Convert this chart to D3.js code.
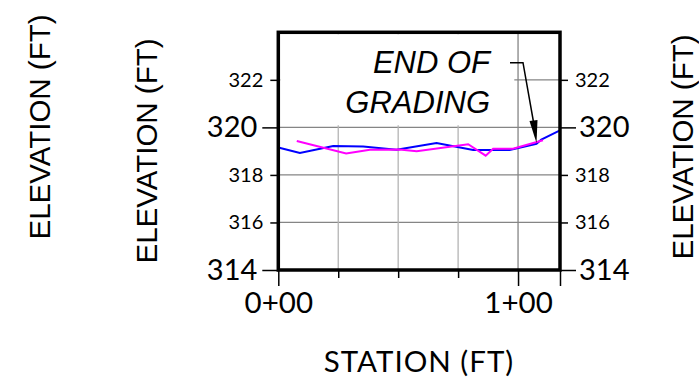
<!DOCTYPE html>
<html lang="en">
<head>
    <meta charset="utf-8">
    <script src="https://d3js.org/d3.v7.min.js"></script>
    <title>Elevation profile</title>
    <style>
        body { margin: 0; background: #fff; }
        .tick text { fill: #000; }
    </style>
</head>
<body>
    <svg width="699" height="381"></svg>
    <script>

        // station (ft) vs elevation (ft)
        var blueStation = [0, 9, 22.9, 35.4, 49.3, 66, 81.3, 96.5, 107.7, 109.7, 117.5];
        var blueElev    = [319.15, 318.92, 319.22, 319.2, 319.06, 319.34, 319.05, 319.05, 319.31, 319.49, 319.87];

        var pinkStation = [7.7, 28.3, 38.2, 50.5, 57.7, 79.2, 86.5, 89.6, 97.9, 110.4];
        var pinkElev    = [319.43, 318.9, 319.06, 319.07, 319.0, 319.29, 318.81, 319.1, 319.1, 319.46];

        var yMinorTicks = [316, 318, 322];
        var yMajorTicks = [314, 320];
        var xMinorTicks = [25, 50, 75];
        var xMajorTicks = [0, 100];
        var xStationLabels = ["0+00", "1+00"];

        var svg = d3.select("svg");

        var pL = 278.3, pR = 560, pT = 32.3, pB = 270;

        var xScale = d3.scaleLinear().domain([0, 117.5]).range([pL, pR]),
            yScale = d3.scaleLinear().domain([314, 324]).range([pB, pT]);

        // grid
        var grid = svg.append("g");
        grid.selectAll("line.gy")
            .data(yMinorTicks.concat([320]))
            .enter().append("line")
            .attr("x1", pL).attr("x2", pR)
            .attr("y1", d => yScale(d)).attr("y2", d => yScale(d))
            .style("stroke", "#858585").style("stroke-width", 1.3);
        grid.selectAll("line.gx")
            .data(xMinorTicks.concat([100]))
            .enter().append("line")
            .attr("x1", d => xScale(d)).attr("x2", d => xScale(d))
            .attr("y1", pT).attr("y2", pB)
            .style("stroke", d => d == 100 ? "#858585" : "#b4b4b4")
            .style("stroke-width", 1.3);

        // white box behind the note
        svg.append("rect")
            .attr("x", pL + 2).attr("y", pT + 2)
            .attr("width", 234).attr("height", 91)
            .style("fill", "#fff");

        var line = d3.line()
            .x(d => xScale(d[0]))
            .y(d => yScale(d[1]));

        svg.append("path")
            .datum(d3.zip(blueStation, blueElev))
            .attr("d", line)
            .style("fill", "none")
            .style("stroke", "#0000ff")
            .style("stroke-width", 2);

        svg.append("path")
            .datum(d3.zip(pinkStation, pinkElev))
            .attr("d", line)
            .style("fill", "none")
            .style("stroke", "#ff00ff")
            .style("stroke-width", 2);

        // frame
        svg.append("rect")
            .attr("x", pL).attr("y", pT)
            .attr("width", pR - pL).attr("height", pB - pT)
            .style("fill", "none")
            .style("stroke", "#000")
            .style("stroke-width", 3.5);

        function styleAxis(g, size) {
            g.select(".domain").remove();
            g.selectAll(".tick line").style("stroke", "#000").style("stroke-width", 1.5);
            g.selectAll(".tick text")
                .style("font-family", "Lato")
                .style("font-size", size + "px");
        }

        // left axis
        svg.append("g").attr("transform", "translate(" + pL + ",0)")
            .call(d3.axisLeft(yScale).tickValues(yMinorTicks).tickSize(8).tickPadding(7))
            .call(styleAxis, 20);
        svg.append("g").attr("transform", "translate(" + pL + ",0)")
            .call(d3.axisLeft(yScale).tickValues(yMajorTicks).tickSize(16).tickPadding(5))
            .call(styleAxis, 29);

        // right axis
        svg.append("g").attr("transform", "translate(" + pR + ",0)")
            .call(d3.axisRight(yScale).tickValues(yMinorTicks).tickSize(8).tickPadding(7))
            .call(styleAxis, 20);
        svg.append("g").attr("transform", "translate(" + pR + ",0)")
            .call(d3.axisRight(yScale).tickValues(yMajorTicks).tickSize(16).tickPadding(3))
            .call(styleAxis, 29);

        // bottom axis
        svg.append("g").attr("transform", "translate(0," + pB + ")")
            .call(d3.axisBottom(xScale).tickValues(xMinorTicks).tickSize(8).tickFormat(""))
            .call(styleAxis, 29);
        svg.append("g").attr("transform", "translate(0," + pB + ")")
            .call(d3.axisBottom(xScale).tickValues(xMajorTicks).tickSize(16).tickPadding(6)
                .tickFormat((d, i) => xStationLabels[i]))
            .call(styleAxis, 29.5);
        svg.append("g").attr("transform", "translate(0," + pB + ")")
            .call(d3.axisBottom(xScale).tickValues([117.5]).tickSize(16).tickFormat(""))
            .call(styleAxis, 29);

        // axis titles
        svg.append("text")
            .attr("x", 419).attr("y", 371.5)
            .attr("text-anchor", "middle")
            .style("font-family", "Lato")
            .style("font-size", "29.5px")
            .style("letter-spacing", "1px")
            .text("STATION (FT)");

        var yTitles = [[50, 127], [156.5, 151], [693, 147]];
        yTitles.forEach(function (p) {
            svg.append("text")
                .attr("transform", "translate(" + p[0] + "," + p[1] + ")rotate(-90)")
                .attr("text-anchor", "middle")
                .style("font-family", "Liberation Sans")
                .style("font-size", "29.5px")
                .text("ELEVATION (FT)");
        });

        // note
        var note = svg.append("g")
            .style("font-family", "Liberation Sans")
            .style("font-style", "italic")
            .style("font-size", "31px");
        note.append("text").attr("x", 490).attr("y", 73)
            .attr("text-anchor", "end").text("END OF");
        note.append("text").attr("x", 490).attr("y", 113)
            .attr("text-anchor", "end").text("GRADING");

        svg.append("path")
            .attr("d", "M510,62.7 L523,62.7 L533.5,122")
            .style("fill", "none")
            .style("stroke", "#000")
            .style("stroke-width", 1.5);
        svg.append("path")
            .attr("d", "M529.5,121 L537.5,120 L536.5,143 Z")
            .style("fill", "#000");

    </script>
</body>
</html>
